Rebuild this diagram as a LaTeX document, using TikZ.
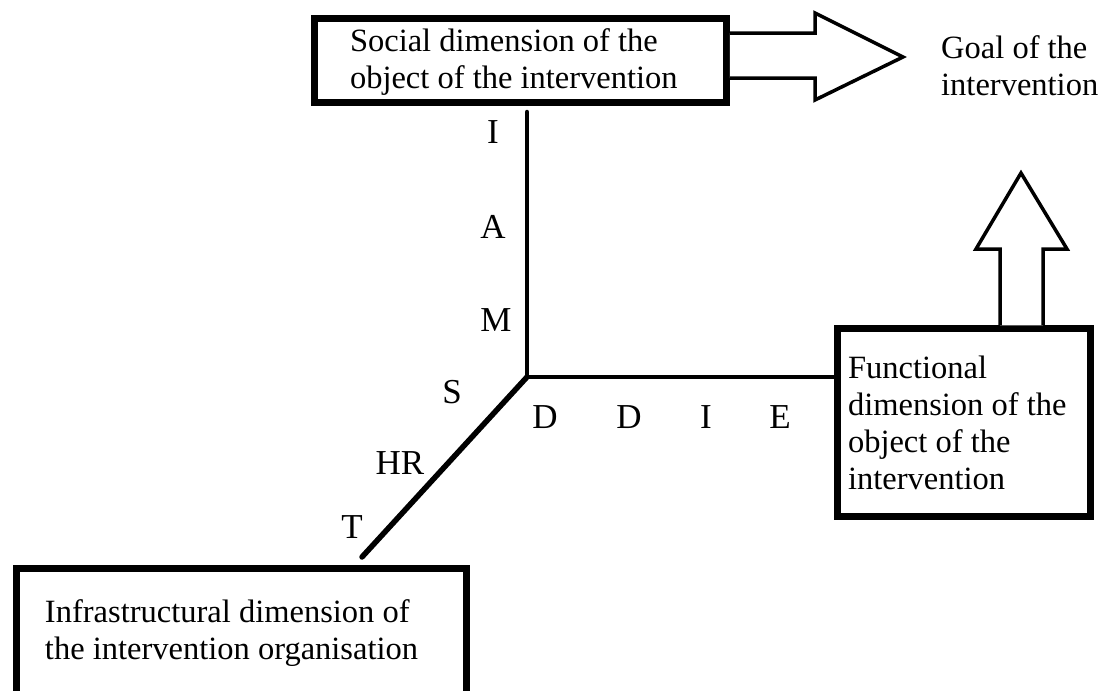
\documentclass[tikz,border=0pt]{standalone}
\usepackage{fontspec}
\setmainfont{Liberation Serif}
\usepackage{tikz}

\begin{document}
\begin{tikzpicture}[x=1pt, y=-1pt,
        dimbox/.style={draw, line width=6.5pt, rectangle, align=flush left, font=\fontsize{32.5}{37}\selectfont},
        axis/.style={line width=4.5pt, line cap=round},
        axislabel/.style={font=\fontsize{35}{40}\selectfont, inner sep=0pt},
        blockarrow/.style={draw, line width=3.5pt, fill=white, line join=miter}]
        \useasboundingbox (0, 0) rectangle (1112, 691);

        \node[dimbox, text width=341pt, inner xsep=35.5pt, minimum height=84pt] (social) at (520.5, 60.5)
            {\rule{0pt}{26pt}Social dimension of the\\object of the intervention};
        \node[dimbox, text width=232pt, inner xsep=10.5pt, minimum height=188pt] (func) at (964, 422.5)
            {Functional\\dimension of the\\object of the\\intervention};
        \node[dimbox, text width=393pt, inner xsep=28.5pt, minimum height=129pt] (infra) at (241.5, 633)
            {Infrastructural dimension of\\the intervention organisation};
        \node[align=left, inner sep=0pt, anchor=west, font=\fontsize{32.5}{37}\selectfont] (goal) at (941, 65.5)
            {Goal of the\\intervention};

        % axes
        \coordinate (o) at (527, 377);
        \coordinate (itop) at (527, 112);
        \coordinate (tend) at (362, 557);
        \draw[axis] (o) -- (itop);
        \draw[axis] (o) -- (func.west |- o);
        \draw[axis, line width=5.5pt] (o) -- (tend);

        % block arrows
        \coordinate (ra) at (0, 33);
        \coordinate (rb) at (0, 78);
        \draw[blockarrow] (social.east |- ra) -- (815, 33) -- (815, 13) -- (903, 57)
            -- (815, 100) -- (815, 78) -- (social.east |- rb);
        \coordinate (ua) at (1000, 0);
        \coordinate (ub) at (1043, 0);
        \draw[blockarrow] (func.north -| ua) -- (1000, 249) -- (976, 249) -- (1021, 173)
            -- (1067, 249) -- (1043, 249) -- (func.north -| ub);

        % letters on the axes
        \node[axislabel] (li) at (493, 132) {I};
        \node[axislabel] (la) at (493, 227) {A};
        \node[axislabel] (lm) at (496, 320) {M};
        \node[axislabel] (ls) at (452, 392) {S};
        \node[axislabel] (lhr) at (400, 463) {HR};
        \node[axislabel] (lt) at (352, 527) {T};
        \node[axislabel] (ld1) at (545, 417) {D};
        \node[axislabel] (ld2) at (629, 417) {D};
        \node[axislabel] (li2) at (706, 417) {I};
        \node[axislabel] (le) at (780, 417) {E};
\end{tikzpicture}
\end{document}
